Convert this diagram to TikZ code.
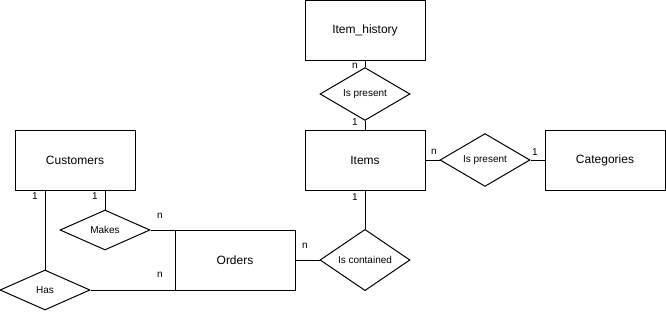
\documentclass[tikz,border=0pt]{standalone}
\usepackage{fontspec}
\setmainfont{Liberation Sans}
\usetikzlibrary{shapes.geometric}

\begin{document}
\begin{tikzpicture}[x=1pt,y=-1pt,line width=1pt,
  entity/.style={draw,rectangle,minimum width=120pt,minimum height=60pt,inner sep=0pt,font=\fontsize{12}{14}\selectfont},
  relation/.style={draw,diamond,minimum width=90pt,minimum height=40pt,inner sep=0pt,font=\fontsize{10}{12}\selectfont},
  card/.style={inner sep=0pt,font=\fontsize{10}{12}\selectfont}]
  \useasboundingbox (0,0) rectangle (666,311);
  % entities
  \node[entity] (hist) at (365,30.5) {Item\_history};
  \node[entity] (items) at (365,160) {Items};
  \node[entity] (cat) at (605,160) {Categories};
  \node[entity] (cust) at (75,160) {Customers};
  \node[entity] (ord) at (235,260) {Orders};
  % relationships
  \node[relation] (hpres) at (365,94) {Is present};
  \node[relation] (cpres) at (485,160) {Is present};
  \node[relation] (cont) at (365,260) {Is contained};
  \node[relation] (makes) at (105,230) {Makes};
  \node[relation] (has) at (45,290) {Has};
  % links
  \draw (hist) -- (hpres);
  \draw (hpres) -- (items);
  \draw (items) -- (cpres);
  \draw (cpres) -- (cat);
  \draw (items) -- (cont);
  \draw (ord) -- (cont);
  \draw (makes.north) -- (makes.north |- cust.south);
  \draw (has.north) -- (has.north |- cust.south);
  \draw (makes.east) -- (makes.east -| ord.west);
  \draw (has.east) -- (has.east -| ord.west);
  % cardinalities
  \node[card] (histn) at (355,66) {n};
  \node[card] (itemsa) at (355,122) {1};
  \node[card] (itemsb) at (434,152) {n};
  \node[card] (cat1) at (535,152) {1};
  \node[card] (itemsc) at (355,197) {1};
  \node[card] (ordc) at (305,246) {n};
  \node[card] (custa) at (35,196) {1};
  \node[card] (custb) at (95,196) {1};
  \node[card] (ordm) at (160,216) {n};
  \node[card] (ordh) at (160,275) {n};
\end{tikzpicture}
\end{document}
